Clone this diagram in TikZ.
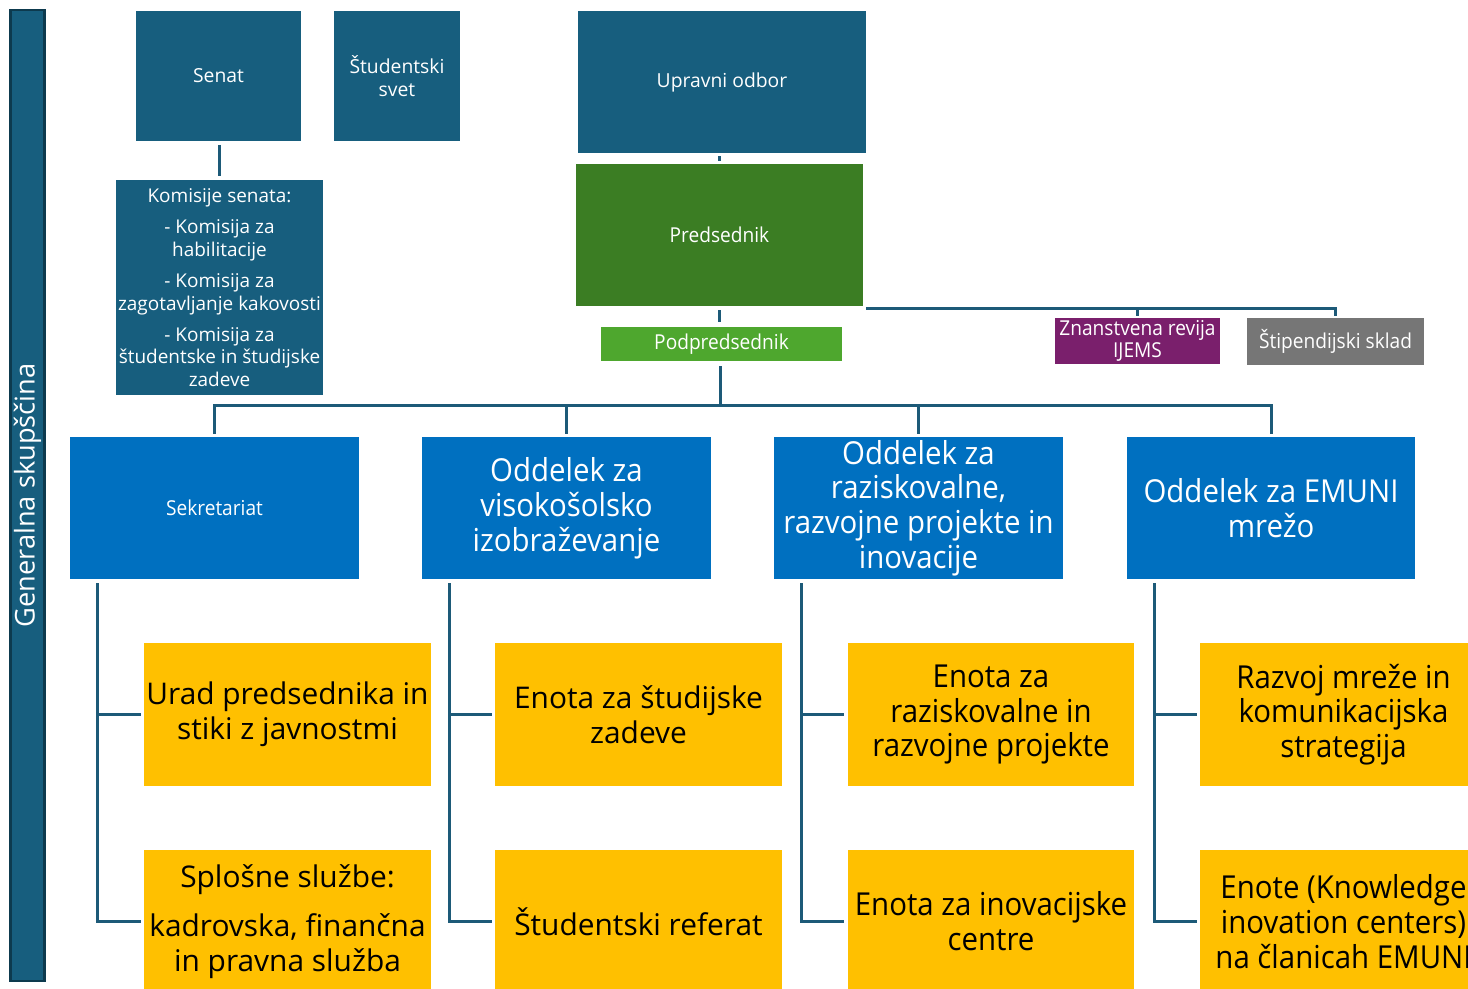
\documentclass[tikz,border=0pt]{standalone}
\usepackage{fontspec}
\setmainfont{Open Sans}
\newfontfamily\narrowf[FakeStretch=0.93]{Open Sans}
\usetikzlibrary{calc}
\definecolor{teal}{HTML}{175E7E}
\definecolor{tealdark}{HTML}{0D3A4E}
\definecolor{dgreen}{HTML}{3B7D23}
\definecolor{lgreen}{HTML}{4EA72E}
\definecolor{mblue}{HTML}{0070C0}
\definecolor{yel}{HTML}{FFC000}
\definecolor{purp}{HTML}{7A1F6C}
\definecolor{gry}{HTML}{767676}
\definecolor{linec}{HTML}{1D5A78}
\tikzset{
  box/.style={rectangle, inner sep=0pt, align=center, text=white},
  tealbox/.style={box, fill=teal, font=\fontsize{11}{12.8}\selectfont},
  smallnarrow/.style={box, font=\narrowf\fontsize{11.7}{12.5}\selectfont},
  dept/.style={box, fill=mblue, minimum width=5.78cm, minimum height=2.84cm},
  bigtxt/.style={font=\narrowf\fontsize{18}{19.8}\selectfont},
  bigwide/.style={font=\fontsize{17}{19.8}\selectfont},
  ybox/.style={box, fill=yel, text=black, minimum width=5.74cm, minimum height=2.86cm},
  conn/.style={draw=linec, line width=1.7pt},
}
\begin{document}
\begin{tikzpicture}[x=0.02cm, y=-0.02cm]
\path[use as bounding box, clip] (0,0) rectangle (1468,988);
\fill[white] (0,0) rectangle (1468,988);

% Generalna skupscina
\node[box, fill=teal, draw=tealdark, line width=1.2pt, minimum width=0.68cm, minimum height=19.44cm] (gen) at (27.5,495.5) {};
\node[rotate=90, text=white, font=\fontsize{15.5}{17}\selectfont] (gentxt) at (gen.center) {Generalna skupščina};

% top boxes
\node[tealbox, minimum width=3.30cm, minimum height=2.60cm] (senat) at (218.5,76) {Senat};
\node[tealbox, minimum width=2.52cm, minimum height=2.60cm] (stsvet) at (397,76) {Študentski\\svet};
\node[tealbox, minimum width=5.76cm, minimum height=2.84cm] (upravni) at (722,82) {Upravni odbor};
\node[tealbox, minimum width=4.14cm, minimum height=4.30cm, font=\fontsize{10.8}{12.8}\selectfont] (komisije) at (219.5,287.5)
  {Komisije senata:\\[5pt]- Komisija za\\habilitacije\\[5pt]- Komisija za\\zagotavljanje kakovosti\\[5pt]- Komisija za\\študentske in študijske\\zadeve};

\node[smallnarrow, fill=dgreen, minimum width=5.74cm, minimum height=2.84cm] (pred) at (719.5,235) {Predsednik};
\node[smallnarrow, fill=lgreen, minimum width=4.82cm, minimum height=0.68cm] (podpred) at (721.5,344) {Podpredsednik};
\node[smallnarrow, fill=purp, minimum width=3.30cm, minimum height=0.92cm] (ijems) at (1137.5,341) {Znanstvena revija\\IJEMS};
\node[smallnarrow, fill=gry, minimum width=3.54cm, minimum height=0.94cm] (stip) at (1335.5,341.5) {Štipendijski sklad};

% departments
\node[dept, font=\narrowf\fontsize{11.7}{12.5}\selectfont] (d1) at (214.5,508) {Sekretariat};
\node[dept, bigtxt] (d2) at (566.5,508) {Oddelek za\\visokošolsko\\izobraževanje};
\node[dept, bigtxt] (d3) at (918.5,508) {Oddelek za\\raziskovalne,\\razvojne projekte in\\inovacije};
\node[dept, bigtxt] (d4) at (1271,508) {Oddelek za EMUNI\\mrežo};

% yellow units
\node[ybox, bigwide] (y11) at (287.5,714.5) {Urad predsednika in\\stiki z javnostmi};
\node[ybox, bigwide] (y12) at (287.5,921.5) {Splošne službe:\\[8pt]kadrovska, finančna\\in pravna služba};
\node[ybox, bigwide] (y21) at (638.5,714.5) {Enota za študijske\\zadeve};
\node[ybox, bigwide] (y22) at (638.5,921.5) {Študentski referat};
\node[ybox, bigtxt] (y31) at (991,714.5) {Enota za\\raziskovalne in\\razvojne projekte};
\node[ybox, bigtxt] (y32) at (991,921.5) {Enota za inovacijske\\centre};
\node[ybox, bigtxt] (y41) at (1343.5,714.5) {Razvoj mreže in\\komunikacijska\\strategija};
\node[ybox, bigtxt] (y42) at (1343.5,921.5) {Enote (Knowledge\\inovation centers)\\na članicah EMUNI};

% connectors
\draw[conn, shorten <=2pt, shorten >=2pt] (senat.south -| komisije.north) -- (komisije.north);
\draw[conn, shorten <=1.6pt, shorten >=1.6pt] (upravni.south -| pred.north) -- (pred.north);
\draw[conn, shorten <=2.3pt, shorten >=2.8pt] (pred.south) -- (pred.south |- podpred.north);

\coordinate (pr) at (866,308);
\draw[conn, shorten >=1.2pt] (pr) -| (ijems.north);
\draw[conn, shorten >=1.2pt] (pr) -| (stip.north);

\coordinate (bus) at (720,405);
\draw[conn, shorten <=2.8pt] (podpred.south -| bus) -- (bus);
\foreach \d in {d1,d2,d3,d4}{
  \draw[conn, shorten >=1.7pt] (bus) -| (\d.north);
}

\foreach \d/\a/\b in {d1/y11/y12, d2/y21/y22, d3/y31/y32, d4/y41/y42}{
  \coordinate (\d s) at ($(\d.south west)+(28,4)$);
  \draw[conn, shorten >=1.7pt] (\d s) |- (\a.west);
  \draw[conn, shorten >=1.7pt] (\d s) |- (\b.west);
}
\end{tikzpicture}
\end{document}
